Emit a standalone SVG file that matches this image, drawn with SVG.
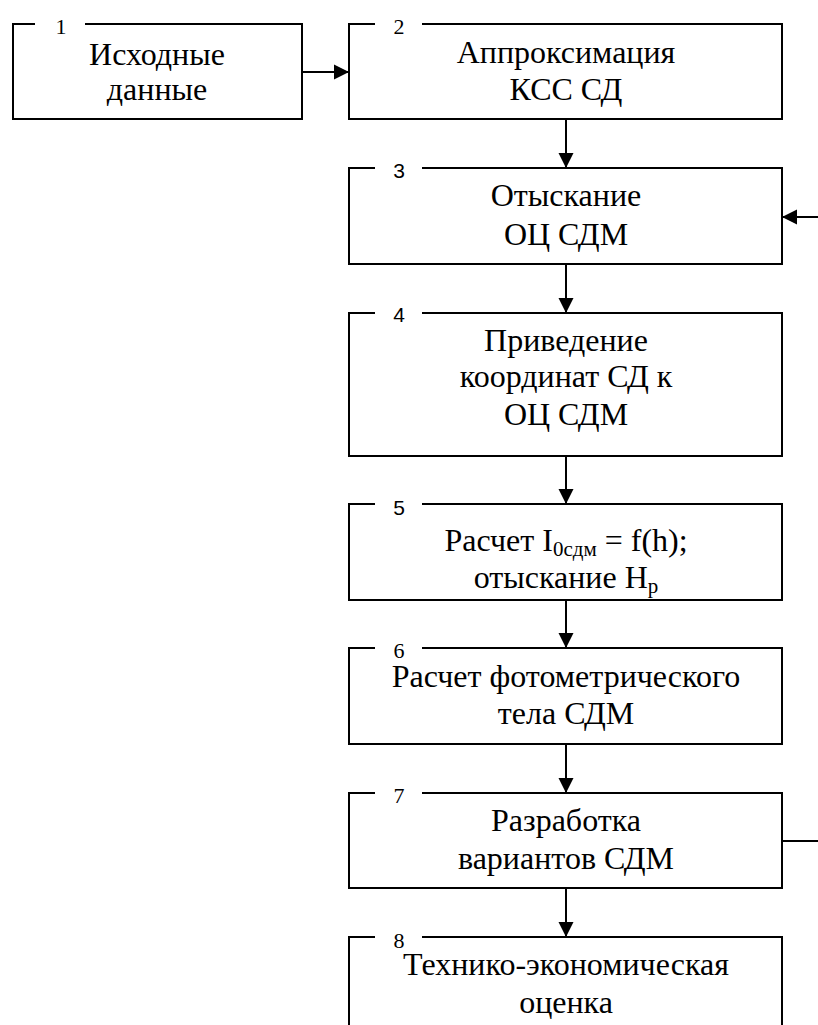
<svg xmlns="http://www.w3.org/2000/svg" width="818" height="1025" viewBox="0 0 818 1025">
<defs>
<marker id="ah" markerUnits="userSpaceOnUse" markerWidth="16" markerHeight="16" viewBox="0 0 16 16" refX="15" refY="8" orient="auto">
<path d="M0,0.5 L15,8 L0,15.5 Z" fill="#000"/>
</marker>
<style>
.box{fill:none;stroke:#000;stroke-width:2}
.c{fill:none;stroke:#000;stroke-width:2}
</style>
</defs>
<rect width="818" height="1025" fill="#fff"/>
<g id="connectors">
<line class="c" x1="302" y1="72" x2="349" y2="72" marker-end="url(#ah)"/>
<line class="c" x1="566" y1="119" x2="566" y2="168" marker-end="url(#ah)"/>
<line class="c" x1="818" y1="217" x2="782" y2="217" marker-end="url(#ah)"/>
<line class="c" x1="566" y1="264" x2="566" y2="313" marker-end="url(#ah)"/>
<line class="c" x1="566" y1="456" x2="566" y2="504" marker-end="url(#ah)"/>
<line class="c" x1="566" y1="600" x2="566" y2="648" marker-end="url(#ah)"/>
<line class="c" x1="566" y1="744" x2="566" y2="793" marker-end="url(#ah)"/>
<line class="c" x1="782" y1="841" x2="818" y2="841"/>
<line class="c" x1="566" y1="888" x2="566" y2="937" marker-end="url(#ah)"/>
</g>
<g font-family="Liberation Serif, serif" font-size="32" text-anchor="middle" fill="#000">
<g id="node1">
<path class="box" d="M35,24 H13 V119 H302 V24 H85"/>
<text x="61" y="34" font-size="22">1</text>
<text x="157" y="65">Исходные</text>
<text x="157" y="100">данные</text>
</g>
<g id="node2">
<path class="box" d="M375,24 H349 V119 H782 V24 H422"/>
<text x="399" y="34" font-size="22">2</text>
<text x="566" y="63">Аппроксимация</text>
<text x="566" y="100">КСС СД</text>
</g>
<g id="node3">
<path class="box" d="M375,168 H349 V264 H782 V168 H422"/>
<text x="399" y="178" font-size="21" font-family="Liberation Sans, sans-serif">3</text>
<text x="566" y="206">Отыскание</text>
<text x="566" y="245">ОЦ СДМ</text>
</g>
<g id="node4">
<path class="box" d="M375,313 H349 V456 H782 V313 H422"/>
<text x="399" y="322" font-size="21" font-family="Liberation Sans, sans-serif">4</text>
<text x="566" y="351">Приведение</text>
<text x="566" y="387">координат СД к</text>
<text x="566" y="425">ОЦ СДМ</text>
</g>
<g id="node5">
<path class="box" d="M375,504 H349 V600 H782 V504 H422"/>
<text x="399" y="515" font-size="21" font-family="Liberation Sans, sans-serif">5</text>
<text x="566" y="551">Расчет I<tspan font-size="21" dy="5">0сдм</tspan><tspan dy="-5"> = f(h);</tspan></text>
<text x="566" y="588">отыскание H<tspan font-size="21" dy="5">p</tspan></text>
</g>
<g id="node6">
<path class="box" d="M375,648 H349 V744 H782 V648 H422"/>
<text x="399" y="658" font-size="22">6</text>
<text x="566" y="687">Расчет фотометрического</text>
<text x="566" y="724">тела СДМ</text>
</g>
<g id="node7">
<path class="box" d="M375,793 H349 V888 H782 V793 H422"/>
<text x="399" y="803" font-size="22">7</text>
<text x="566" y="831">Разработка</text>
<text x="566" y="869">вариантов СДМ</text>
</g>
<g id="node8">
<path class="box" d="M375,937 H349 V1026 M782,1026 V937 H422"/>
<text x="399" y="948" font-size="22">8</text>
<text x="566" y="975">Технико-экономическая</text>
<text x="566" y="1013">оценка</text>
</g>
</g>
</svg>
